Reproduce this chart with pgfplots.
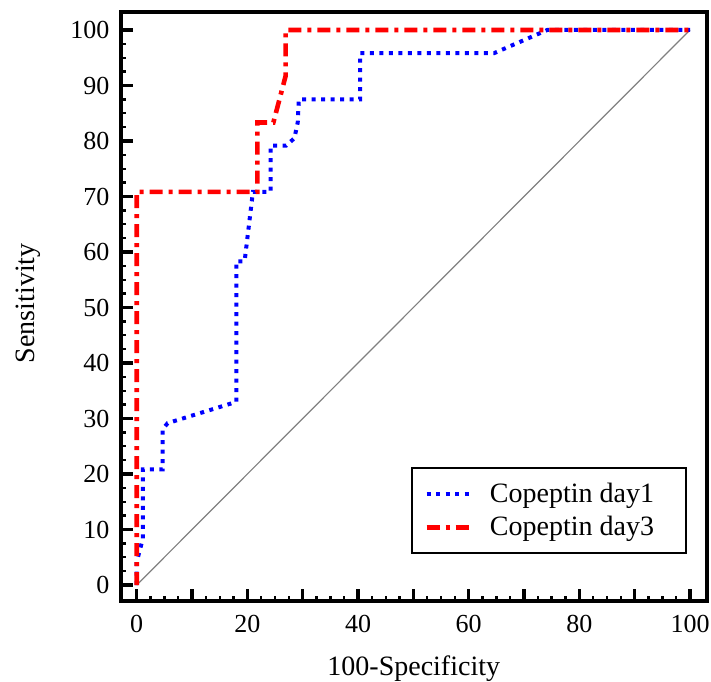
\documentclass[border=0pt]{standalone}
\usepackage{fontspec}
\setmainfont{Liberation Serif}
\usepackage{pgfplots}
\pgfplotsset{compat=1.18}

\begin{document}
\begin{tikzpicture}
\begin{axis}[
  name=ax,
  width=293.25pt, height=294.75pt, scale only axis,
  xmin=-2.93, xmax=103.07, ymin=-2.88, ymax=103.33,
  xtick={0,10,...,100}, xticklabels={0,,20,,40,,60,,80,,100},
  ytick={0,10,...,100},
  minor x tick num=3, minor y tick num=3,
  tick align=inside, xtick pos=bottom, ytick pos=left,
  major tick length=6pt, minor tick length=2.5pt,
  major tick style={line width=1.7pt, black},
  minor tick style={line width=1.2pt, black},
  axis line style={line width=2pt},
  /pgf/number format/assume math mode=true,
  ticklabel style={font=\fontsize{13}{15}\selectfont},
  xticklabel style={yshift=-3.7pt},
  yticklabel style={xshift=-2pt},
  xlabel={100-Specificity}, ylabel={Sensitivity},
  label style={font=\fontsize{14}{17}\selectfont},
  xlabel style={at={(axis description cs:0.5,-0.1272)}, anchor=base},
  ylabel style={at={(axis description cs:-0.1458,0.505)}, anchor=base},
  legend cell align=left,
  legend image code/.code={\draw[#1] (0pt,0pt) -- (21.5pt,0pt);},
  legend style={at={(0.966,0.08)}, anchor=south east, draw=black, line width=1pt,
    font=\fontsize{14}{17}\selectfont, inner xsep=6pt, inner ysep=5.2pt,
    column sep=7pt, row sep=1.4pt},
]
\addplot[gray, line width=0.6pt, forget plot] coordinates {(0,0) (100,100)};
\addplot[blue, line width=2pt, dash pattern=on 2pt off 2.75pt] coordinates {
  (0,0) (0,4.17) (1.1,8.33) (1.1,20.83) (4.7,20.83) (4.7,28.1) (5.6,29.17)
  (18.0,33.0) (18.0,58.33) (19.5,58.33) (21.0,70.83) (24.2,70.83) (24.2,79.17)
  (27.0,79.17) (28.5,80.5) (29.1,83.33) (29.3,87.5) (40.4,87.5) (40.4,95.83)
  (64.6,95.83) (74.2,100) (100,100)};
\addlegendentry{Copeptin day1\hspace*{8pt}}
\addplot[red, line width=2.3pt, dash pattern=on 6.5pt off 3pt on 2pt off 3pt] coordinates {
  (0,0) (0,70.83) (21.8,70.83) (21.8,83.33) (24.7,83.33) (25.8,87.5)
  (26.9,91.67) (26.9,100) (100,100)};
\addlegendentry{Copeptin day3\hspace*{8pt}}
\end{axis}
\pgfresetboundingbox
\path[use as bounding box] ([shift={(-60.25pt,-40pt)}]ax.south west) rectangle ([shift={(2pt,5.75pt)}]ax.north east);
\end{tikzpicture}
\end{document}
